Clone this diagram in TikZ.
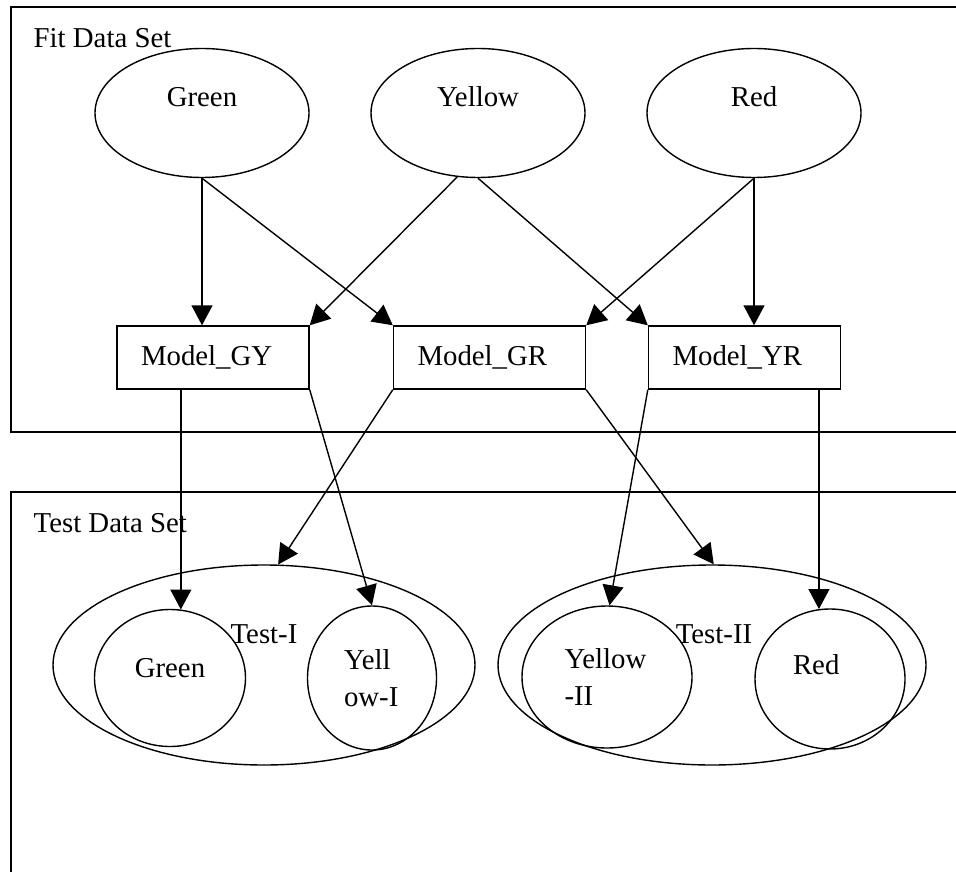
\documentclass[tikz,border=0pt]{standalone}
\usepackage{fontspec}
\setmainfont{Liberation Serif}
\usetikzlibrary{arrows.meta,positioning,shapes.geometric}

\begin{document}
\begin{tikzpicture}%
  [x=0.5pt, y=-0.5pt,
   >={Triangle[length=10pt,width=10.5pt]},
   line width=0.7pt,
   node distance=138pt,
   on grid,
   font=\fontsize{14.4}{18.5}\selectfont,
   colour/.style={ellipse, draw, minimum width=107pt, minimum height=64.5pt,
                  text height=10pt, text depth=16pt},
   model/.style={rectangle, draw, minimum height=31.5pt, text width=72pt,
                 inner xsep=12pt, align=left},
   ring/.style={ellipse, draw, inner sep=0pt}
  ]
\path[use as bounding box, clip] (0,0) rectangle (956,871);

% the two data set frames
\draw (11,7)   rectangle (990,432);
\draw (11,492) rectangle (990,900);
\node[anchor=west, inner sep=0pt] (fitlbl)  at (33,38)  {Fit Data Set};
\node[anchor=west, inner sep=0pt] (testlbl) at (33,523) {Test Data Set};

% fit data
\node[colour] (green)                  at (202,113) {Green};
\node[colour] (yellow) [right=of green]             {Yellow};
\node[colour] (red)    [right=of yellow]            {Red};

\node[model] (gy) at (213,357.5)   {Model\_GY};
\node[model] (gr) at (489.5,357.5) {Model\_GR};
\node[model] (yr) at (744.5,357.5) {Model\_YR};

% test data
\node[ring, minimum width=211pt, minimum height=100pt,
      label={[xshift=0pt,yshift=15.5pt]center:Test-I}]  (test1) at (264,665) {};
\node[ring, minimum width=214pt, minimum height=100pt,
      label={[xshift=1pt,yshift=15.5pt]center:Test-II}] (test2) at (712,665) {};

\node[ring, minimum width=75.5pt, minimum height=68.5pt,
      text height=10pt, text depth=11pt]                 (tgreen) at (170,678) {Green};
\node[ring, minimum width=64.5pt, minimum height=72pt,
      text width=28pt, align=left]                       (yellI)  at (372,678) {Yell\\ow-I};
\node[ring, minimum width=85pt, minimum height=71pt,
      text width=42.5pt, align=left]                     (yellII) at (607,677) {Yellow\\-II};
\node[ring, minimum width=75pt, minimum height=70pt,
      text width=37pt, align=left, text height=10pt, text depth=15pt]
                                                         (tred)   at (830,679) {Red};

\path[->]
%   FROM                   TO
   (green.south)   edge   (green.south |- gy.north)
                   edge   (gr.north west)
   (yellow.-108)   edge   (gy.north east)
   (yellow.south)  edge   (yr.north west)
   (red.south)     edge   (gr.north east)
                   edge   (red.south |- yr.north)
   (gy.south -| tgreen.81) edge (tgreen.81)
   (gy.south east) edge   (yellI.north)
   (gr.south west) edge   (test1.82)
   (gr.south east) edge   (test2.89)
   (yr.south west) edge   (yellII.88)
   (yr.south -| tred.99)   edge (tred.99)
   ;
\end{tikzpicture}
\end{document}
